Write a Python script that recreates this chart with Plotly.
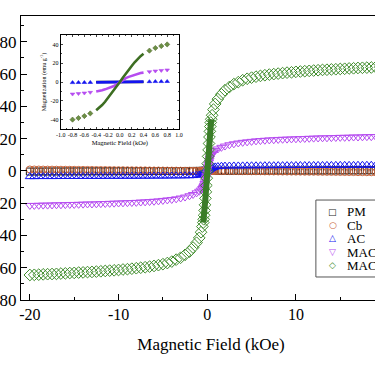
import plotly.graph_objects as go

# ---------------- main panel data (Magnetic field in kOe, M in emu/g) ----------------
H = [-20, -19.5, -19, -18.5, -18, -17.5, -17, -16.5, -16, -15.5, -15, -14.5, -14, -13.5, -13,
     -12.5, -12, -11.5, -11, -10.5, -10, -9.5, -9, -8.5, -8, -7.5, -7, -6.5, -6, -5.5, -5,
     -4.5, -4, -3.5, -3, -2.5, -2, -1.6, -1.2, -0.9, -0.7, -0.55,
     -0.45, -0.4, -0.35, -0.3, -0.25, -0.2, -0.15, -0.1, -0.05, 0,
     0.05, 0.1, 0.15, 0.2, 0.25, 0.3, 0.35, 0.4, 0.45,
     0.55, 0.7, 0.9, 1.2, 1.6, 2, 2.5, 3, 3.5, 4, 4.5, 5, 5.5, 6, 6.5, 7, 7.5, 8, 8.5, 9,
     9.5, 10, 10.5, 11, 11.5, 12, 12.5, 13, 13.5, 14, 14.5, 15, 15.5, 16, 16.5, 17, 17.5,
     18, 18.5, 19, 19.5, 20]

M_PM = [-0.40, -0.39, -0.38, -0.37, -0.36, -0.35, -0.34, -0.33, -0.32, -0.31, -0.30, -0.29,
        -0.28, -0.27, -0.26, -0.25, -0.24, -0.23, -0.22, -0.21, -0.20, -0.19, -0.18, -0.17,
        -0.16, -0.15, -0.14, -0.13, -0.12, -0.11, -0.10, -0.09, -0.08, -0.07, -0.06, -0.05,
        -0.04, -0.03, -0.02, -0.02, -0.01, -0.01,
        -0.01, -0.01, -0.01, 0.0, 0.0, 0.0, 0.0, 0.0, 0.0, 0.0,
        0.0, 0.0, 0.0, 0.0, 0.0, 0.0, 0.01, 0.01, 0.01,
        0.01, 0.01, 0.02, 0.02, 0.03, 0.04, 0.05, 0.06, 0.07, 0.08, 0.09, 0.10, 0.11, 0.12,
        0.13, 0.14, 0.15, 0.16, 0.17, 0.18, 0.19, 0.20, 0.21, 0.22, 0.23, 0.24, 0.25, 0.26,
        0.27, 0.28, 0.29, 0.30, 0.31, 0.32, 0.33, 0.34, 0.35, 0.36, 0.37, 0.38, 0.39, 0.40]

M_Cb = [0.90, 0.88, 0.86, 0.83, 0.81, 0.79, 0.77, 0.74, 0.72, 0.70, 0.68, 0.65, 0.63, 0.61,
        0.59, 0.56, 0.54, 0.52, 0.50, 0.47, 0.45, 0.43, 0.41, 0.38, 0.36, 0.34, 0.32, 0.29,
        0.27, 0.25, 0.23, 0.20, 0.18, 0.16, 0.14, 0.11, 0.09, 0.07, 0.05, 0.04, 0.03, 0.02,
        0.02, 0.02, 0.02, 0.01, 0.01, 0.01, 0.01, 0.0, 0.0, 0.0,
        0.0, 0.0, -0.01, -0.01, -0.01, -0.01, -0.02, -0.02, -0.02,
        -0.02, -0.03, -0.04, -0.05, -0.07, -0.09, -0.11, -0.14, -0.16, -0.18, -0.20, -0.23,
        -0.25, -0.27, -0.29, -0.32, -0.34, -0.36, -0.38, -0.41, -0.43, -0.45, -0.47, -0.50,
        -0.52, -0.54, -0.56, -0.59, -0.61, -0.63, -0.65, -0.68, -0.70, -0.72, -0.74, -0.77,
        -0.79, -0.81, -0.83, -0.86, -0.88, -0.90]

M_AC = [-3.55, -3.55, -3.5, -3.5, -3.5, -3.5, -3.5, -3.45, -3.45, -3.45, -3.45, -3.45, -3.4,
        -3.4, -3.4, -3.4, -3.4, -3.35, -3.35, -3.35, -3.35, -3.3, -3.3, -3.3, -3.3, -3.25,
        -3.25, -3.25, -3.2, -3.2, -3.2, -3.15, -3.15, -3.1, -3.1, -3.05, -3.0,
        -2.9, -2.7, -2.5, -2.2, -1.9,
        -1.7, -1.5, -1.4, -1.2, -1.0, -0.8, -0.6, -0.4, -0.2, 0.0,
        0.2, 0.4, 0.6, 0.8, 1.0, 1.2, 1.4, 1.5, 1.7,
        1.9, 2.2, 2.5, 2.7, 2.9,
        3.0, 3.05, 3.1, 3.1, 3.15, 3.15, 3.2, 3.2, 3.2, 3.25, 3.25, 3.25, 3.3, 3.3, 3.3, 3.3,
        3.35, 3.35, 3.35, 3.35, 3.4, 3.4, 3.4, 3.4, 3.4, 3.45, 3.45, 3.45, 3.45, 3.45, 3.5,
        3.5, 3.5, 3.5, 3.5, 3.55, 3.55]

M_MAC1 = [-21.4, -21.4, -21.3, -21.2, -21.2, -21.1, -21.0, -21.0, -20.9, -20.8, -20.8, -20.7,
          -20.6, -20.5, -20.5, -20.4, -20.3, -20.2, -20.1, -20.0, -19.9, -19.8, -19.7, -19.6,
          -19.5, -19.3, -19.2, -19.0, -18.8, -18.6, -18.3, -18.0, -17.7, -17.3, -16.8, -16.2,
          -15.4, -14.6, -13.6, -12.6, -11.8, -10.9,
          -10.2, -9.6, -8.8, -7.8, -6.7, -5.5, -4.3, -3.0, -1.5, 0.0,
          1.5, 3.0, 4.3, 5.5, 6.7, 7.8, 8.8, 9.6, 10.2,
          10.9, 11.8, 12.6, 13.6, 14.6,
          15.4, 16.2, 16.8, 17.3, 17.7, 18.0, 18.3, 18.6, 18.8, 19.0, 19.2, 19.3, 19.5, 19.6,
          19.7, 19.8, 19.9, 20.0, 20.1, 20.2, 20.3, 20.4, 20.5, 20.5, 20.6, 20.7, 20.8, 20.8,
          20.9, 21.0, 21.0, 21.1, 21.2, 21.2, 21.3, 21.4, 21.4]

M_MAC2 = [-64.5, -64.4, -64.3, -64.1, -64.0, -63.9, -63.8, -63.6, -63.5, -63.3, -63.2, -63.0,
          -62.9, -62.7, -62.6, -62.4, -62.2, -62.0, -61.8, -61.6, -61.4, -61.1, -60.9, -60.6,
          -60.3, -60.0, -59.7, -59.3, -58.9, -58.4, -57.8, -57.1, -56.2, -55.0, -53.8, -52.0,
          -50.0, -47.5, -44.5, -41.5, -38.0, -34.5,
          -32.0, -30.0, -27.5, -24.5, -21.0, -17.0, -13.0, -9.0, -4.5, 0.0,
          4.5, 9.0, 13.0, 17.0, 21.0, 24.5, 27.5, 30.0, 32.0,
          34.5, 38.0, 41.5, 44.5, 47.5,
          50.0, 52.0, 53.8, 55.0, 56.2, 57.1, 57.8, 58.4, 58.9, 59.3, 59.7, 60.0, 60.3, 60.6,
          60.9, 61.1, 61.4, 61.6, 61.8, 62.0, 62.2, 62.4, 62.6, 62.7, 62.9, 63.0, 63.2, 63.3,
          63.5, 63.6, 63.8, 63.9, 64.0, 64.1, 64.3, 64.4, 64.5]

# ---------------- inset data (low-field region) ----------------
Hi_sparse = [-0.8, -0.7, -0.6, -0.5, 0.5, 0.6, 0.7, 0.8]
Mi_AC_sparse = [-0.6, -0.5, -0.5, -0.4, 0.4, 0.5, 0.5, 0.6]
Mi_MAC1_sparse = [-12.8, -12.3, -11.7, -11.0, 11.0, 11.7, 12.3, 12.8]
Mi_MAC2_sparse = [-40.0, -38.3, -36.2, -33.4, 33.4, 36.2, 38.3, 40.0]

Hi_core = [-0.4, -0.35, -0.3, -0.25, -0.2, -0.15, -0.1, -0.05, 0, 0.05, 0.1, 0.15, 0.2,
           0.25, 0.3, 0.35, 0.4]
Mi_PM_core = [0.0] * 17
Mi_AC_core = [-0.4, -0.35, -0.3, -0.25, -0.2, -0.15, -0.1, -0.05, 0.0, 0.05, 0.1, 0.15,
              0.2, 0.25, 0.3, 0.35, 0.4]
Mi_MAC1_core = [-10.0, -9.6, -8.8, -7.8, -6.7, -5.5, -4.2, -2.4, 0.0, 2.4, 4.2, 5.5, 6.7,
                7.8, 8.8, 9.6, 10.0]
Mi_MAC2_core = [-30.0, -27.5, -24.5, -21.0, -17.0, -13.0, -9.0, -4.5, 0.0, 4.5, 9.0, 13.0,
                17.0, 21.0, 24.5, 27.5, 30.0]

names = ["PM", "Cb", "AC", "MAC-1", "MAC-2"]
colors = ["#1a1a1a", "#c9663d", "#1414f0", "#b64cf0", "#3f8c2c"]
symbols = ["square-open", "circle-open", "triangle-up-open", "triangle-down-open", "diamond-open"]
sizes = [7, 7, 8, 8, 9]
legend_glyphs = ["\u25a1", "\u25cb", "\u25b3", "\u25bd", "\u25c7"]

x_ticks = [-20, -10, 0, 10]
y_ticks = [-80, -60, -40, -20, 0, 20, 40, 60, 80]
xi_ticks = [-1.0, -0.8, -0.6, -0.4, -0.2, 0.0, 0.2, 0.4, 0.6, 0.8, 1.0]
yi_ticks = [-40, -20, 0, 20, 40]

SERIF = "Liberation Serif, Times New Roman, serif"
CORE = slice(42, 61)   # steep low-field part of the main loop (|H| <= 0.45 kOe)

fig = go.Figure()
main_series = [M_PM, M_Cb, M_AC, M_MAC1, M_MAC2]
for nm, col, sym, sz, ys in zip(names, colors, symbols, sizes, main_series):
    fig.add_trace(go.Scatter(x=H, y=ys, mode="markers", name=nm, showlegend=False,
                             marker=dict(symbol=sym, size=sz, color=col,
                                         line=dict(width=1, color=col)),
                             xaxis="x", yaxis="y"))
    if nm in ("AC", "MAC-1", "MAC-2"):
        # densely measured steep part appears as a solid band
        fig.add_trace(go.Scatter(x=H[CORE], y=ys[CORE], mode="lines", showlegend=False,
                                 line=dict(color=col if nm != "MAC-2" else "#3a7d28", width=6),
                                 xaxis="x", yaxis="y"))

# inset traces
inset_core = [(Mi_PM_core, 0), (Mi_AC_core, 2), (Mi_MAC1_core, 3), (Mi_MAC2_core, 4)]
for ys, k in inset_core:
    fig.add_trace(go.Scatter(x=Hi_core, y=ys, mode="lines", showlegend=False,
                             line=dict(color=colors[k] if k != 4 else "#3d6e22", width=2.6),
                             xaxis="x2", yaxis="y2"))
inset_sparse = [(Mi_AC_sparse, 2, "triangle-up"), (Mi_MAC1_sparse, 3, "triangle-down"),
                (Mi_MAC2_sparse, 4, "diamond")]
for ys, k, sym in inset_sparse:
    fig.add_trace(go.Scatter(x=Hi_sparse, y=ys, mode="markers", showlegend=False,
                             marker=dict(symbol=sym, size=4, color=colors[k] if k != 4 else "#6b8f45",
                                         line=dict(width=0.6, color="#556b2f" if k == 4 else colors[k])),
                             xaxis="x2", yaxis="y2"))

# legend drawn as text (box + glyph + label); figure is wider than the window,
# so its right part (as in the reference crop) falls outside the view
annotations = []
row_y = [0.310, 0.264, 0.218, 0.169, 0.123]
for g, nm, col, yy in zip(legend_glyphs, names, colors, row_y):
    annotations.append(dict(x=0.821, y=yy, xref="paper", yref="paper", text=g, showarrow=False,
                            xanchor="center", yanchor="middle",
                            font=dict(family="DejaVu Sans", size=9, color=col)))
    annotations.append(dict(x=0.855, y=yy, xref="paper", yref="paper", text=nm, showarrow=False,
                            xanchor="left", yanchor="middle", borderpad=0,
                            font=dict(family=SERIF, size=13, color="black")))

fig.update_layout(
    width=401, height=366,
    margin=dict(l=21, r=0, t=16, b=66, autoexpand=False),
    paper_bgcolor="white", plot_bgcolor="white",
    font=dict(family=SERIF, color="black"),
    showlegend=False,
    annotations=annotations,
    shapes=[dict(type="rect", xref="paper", yref="paper", x0=0.776, x1=0.975, y0=0.081, y1=0.352,
                 line=dict(color="#555555", width=1), fillcolor="rgba(0,0,0,0)")],
    xaxis=dict(range=[-21.0, 21.85], showline=True, linecolor="black", linewidth=1.3,
               mirror=True, ticks="inside", ticklen=6, tickwidth=1.2, tickcolor="black",
               tickvals=x_ticks, ticktext=[str(v) for v in x_ticks],
               tickfont=dict(size=16), showgrid=False, zeroline=False,
               minor=dict(tickvals=[-15, -5, 5, 15], ticks="inside", ticklen=3, tickwidth=1.2,
                          tickcolor="black"),
               title=dict(text="Magnetic Field (kOe)", font=dict(size=17), standoff=15)),
    yaxis=dict(range=[-80, 96], showline=True, linecolor="black", linewidth=1.3,
               mirror=True, ticks="inside", ticklen=6, tickwidth=1.2, tickcolor="black",
               tickvals=y_ticks, ticktext=[str(v) for v in y_ticks],
               tickfont=dict(size=17), showgrid=False, zeroline=False,
               minor=dict(tickvals=[-70, -50, -30, -10, 10, 30, 50, 70, 90], ticks="inside",
                          ticklen=3, tickwidth=1.2, tickcolor="black")),
    xaxis2=dict(domain=[0.1045, 0.4158], anchor="y2", range=[-1.0, 1.0], showline=True,
                linecolor="black", linewidth=0.8, mirror="ticks", ticks="inside", ticklen=2,
                tickwidth=0.6, tickvals=xi_ticks, ticktext=["%.1f" % v for v in xi_ticks],
                tickfont=dict(size=6), showgrid=False, zeroline=False,
                minor=dict(dtick=0.1, ticks="inside", ticklen=1.2, tickwidth=0.5),
                title=dict(text="Magnetic Field (kOe)", font=dict(size=6.5), standoff=3)),
    yaxis2=dict(domain=[0.602, 0.933], anchor="x2", range=[-50, 50], showline=True,
                linecolor="black", linewidth=0.8, mirror="ticks", ticks="inside", ticklen=2,
                tickwidth=0.6, tickvals=yi_ticks, ticktext=[str(v) for v in yi_ticks],
                tickfont=dict(size=6), showgrid=False, zeroline=False,
                minor=dict(dtick=10, ticks="inside", ticklen=1.2, tickwidth=0.5),
                title=dict(text="Magnetization (emu g<sup>-1</sup>)", font=dict(size=6),
                           standoff=3)),
)

fig.write_html("out.html", config={"displayModeBar": False},
               post_script="document.body.style.margin='0px';document.body.style.overflow='hidden';")
